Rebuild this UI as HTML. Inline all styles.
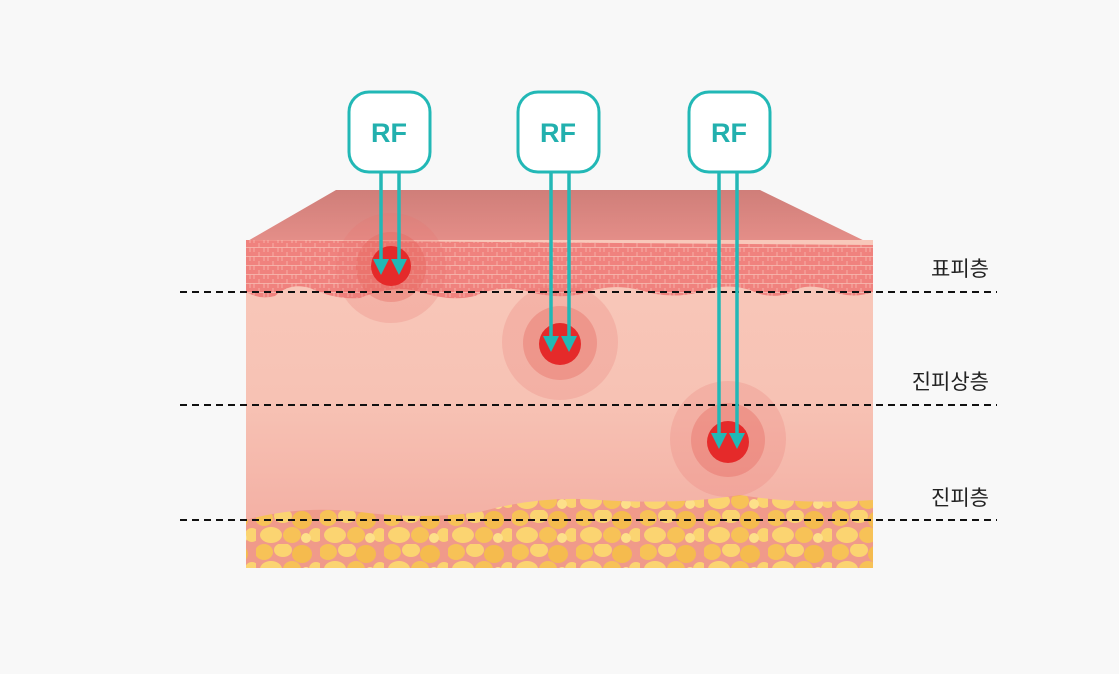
<!DOCTYPE html>
<html><head><meta charset="utf-8"><style>
html,body{margin:0;padding:0;background:#f8f8f8;}
svg{display:block;}
</style></head><body>
<svg width="1119" height="674" viewBox="0 0 1119 674" xmlns="http://www.w3.org/2000/svg">
<defs>
<linearGradient id="top" x1="0" y1="0" x2="0" y2="1">
<stop offset="0" stop-color="#cf7e79"/><stop offset="1" stop-color="#e8918b"/>
</linearGradient>
<linearGradient id="derm" x1="0" y1="0" x2="0" y2="1">
<stop offset="0" stop-color="#f8c8ba"/><stop offset="0.5" stop-color="#f7c2b4"/><stop offset="1" stop-color="#f2a99e"/>
</linearGradient>
<pattern id="cells" width="14" height="9" patternUnits="userSpaceOnUse">
<rect width="14" height="9" fill="#f0827e"/>
<path d="M0 4.5 H14 M7 0 V4.5 M2 4.5 V9 M12 4.5 V9" stroke="#f9c0b6" stroke-width="0.7"/>
</pattern>
<pattern id="fat" width="64" height="34" patternUnits="userSpaceOnUse">
<rect width="64" height="34" fill="#f09a8a"/>
<ellipse cx="8" cy="8" rx="9" ry="8" fill="#f7c257"/>
<ellipse cx="27" cy="6" rx="9" ry="7" fill="#fbd471"/>
<ellipse cx="46" cy="10" rx="10" ry="9" fill="#f5bb4e"/>
<ellipse cx="60" cy="25" rx="7" ry="7" fill="#fbd471"/>
<ellipse cx="15" cy="25" rx="11" ry="8" fill="#fbd471"/>
<ellipse cx="36" cy="25" rx="9" ry="8" fill="#f7c257"/>
<ellipse cx="50" cy="28" rx="5" ry="5" fill="#fde08a"/>
</pattern>
</defs>

<!-- top face -->
<polygon points="246,242 336,190 760,190 873,245 873,250 246,250" fill="url(#top)"/>
<!-- dermis -->
<rect x="246" y="240" width="627" height="328" fill="url(#derm)"/>
<!-- fat -->
<path d="M246 520 Q300 505 360 512 Q420 520 480 512 Q540 495 600 500 Q680 505 740 495 Q800 505 873 500 V568 H246 Z" fill="url(#fat)"/>
<!-- epidermis -->
<path d="M246 240 L873 245 L873 292 Q850 300 830 290 Q805 282 790 293 Q770 300 750 290 Q725 282 700 292 Q670 300 640 290 Q610 283 585 293 Q560 300 530 292 Q500 284 475 296 Q450 302 420 292 Q395 284 360 298 Q335 300 310 288 Q290 282 275 296 Q260 300 246 292 Z" fill="url(#cells)"/>

<!-- glows -->
<circle cx="391" cy="268" r="55" fill="#e8726c" opacity="0.22"/>
<circle cx="391" cy="267" r="35" fill="#e4605a" opacity="0.35"/>
<circle cx="391" cy="266" r="20" fill="#e52a2a"/>
<circle cx="560" cy="342" r="58" fill="#e8726c" opacity="0.22"/>
<circle cx="560" cy="343" r="37" fill="#e4605a" opacity="0.35"/>
<circle cx="560" cy="344" r="21" fill="#e52a2a"/>
<circle cx="728" cy="439" r="58" fill="#e8726c" opacity="0.22"/>
<circle cx="728" cy="440" r="37" fill="#e4605a" opacity="0.35"/>
<circle cx="728" cy="442" r="21" fill="#e52a2a"/>

<!-- dashed lines -->
<g stroke="#111" stroke-width="2" stroke-dasharray="7 5">
<line x1="180" y1="292" x2="997" y2="292"/>
<line x1="180" y1="405" x2="997" y2="405"/>
<line x1="180" y1="520" x2="997" y2="520"/>
</g>

<!-- RF boxes -->
<g fill="#fff" stroke="#22b8b6" stroke-width="3">
<rect x="349" y="92" width="81" height="80" rx="20"/>
<rect x="518" y="92" width="81" height="80" rx="20"/>
<rect x="689" y="92" width="81" height="80" rx="20"/>
</g>
<g font-family="Liberation Sans, sans-serif" font-weight="bold" font-size="27" fill="#22b0ae" text-anchor="middle">
<text x="389" y="142">RF</text>
<text x="558" y="142">RF</text>
<text x="729" y="142">RF</text>
</g>

<!-- arrows -->
<g stroke="#22b8b6" stroke-width="3.5">
<line x1="381" y1="172" x2="381" y2="262"/>
<line x1="399" y1="172" x2="399" y2="262"/>
<line x1="551" y1="172" x2="551" y2="340"/>
<line x1="569" y1="172" x2="569" y2="340"/>
<line x1="719" y1="172" x2="719" y2="437"/>
<line x1="737" y1="172" x2="737" y2="437"/>
</g>
<g fill="#22b8b6">
<polygon points="373,259 389,259 381,275"/>
<polygon points="391,259 407,259 399,275"/>
<polygon points="543,336 559,336 551,352"/>
<polygon points="561,336 577,336 569,352"/>
<polygon points="711,433 727,433 719,449"/>
<polygon points="729,433 745,433 737,449"/>
</g>

<!-- labels -->
<g font-family="Liberation Sans, 'Noto Sans CJK KR', sans-serif" font-size="21" fill="#222" text-anchor="end">
<text x="989" y="276">표피층</text>
<text x="989" y="389">진피상층</text>
<text x="989" y="505">진피층</text>
</g>
</svg>
</body></html>
